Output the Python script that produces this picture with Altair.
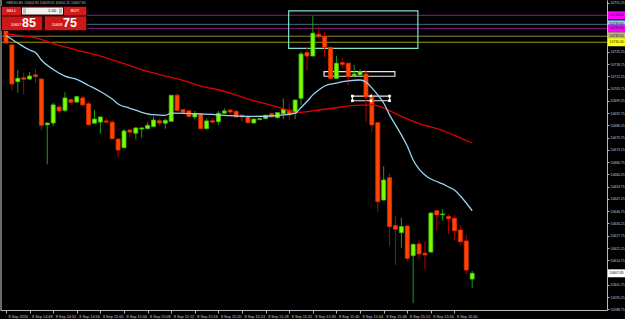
import json
import altair as alt
import pandas as pd

# ---------------- data ----------------
minutes = list(range(80))  # M1 bars from 14:44
opens = [10736.8, 10728.9, 10709.4, 10711.5, 10710.8, 10713.0, 10710.8, 10686.5, 10687.5, 10696.0,
         10694.2, 10699.9, 10698.6, 10700.8, 10697.7, 10687.4, 10688.0, 10688.6, 10687.9, 10679.0,
         10674.4, 10683.8, 10682.1, 10684.3, 10684.5, 10685.6, 10688.7, 10687.4, 10688.4, 10702.2,
         10694.6, 10694.0, 10690.7, 10692.3, 10684.5, 10688.7, 10688.2, 10692.7, 10694.4, 10693.7,
         10691.6, 10690.7, 10687.5, 10689.3, 10689.8, 10692.4, 10690.3, 10692.4, 10694.4, 10692.7,
         10700.6, 10724.8, 10723.0, 10734.5, 10733.3, 10727.6, 10711.2, 10719.5, 10719.2, 10712.4,
         10713.0, 10713.5, 10701.0, 10687.7, 10646.7, 10658.5, 10633.1, 10629.4, 10632.9, 10617.2,
         10623.4, 10618.5, 10619.1, 10641.0, 10638.8, 10637.9, 10637.0, 10630.8, 10625.0, 10604.8]
highs = [10737.3, 10729.4, 10715.6, 10714.2, 10714.7, 10716.1, 10711.1, 10687.8, 10698.3, 10697.1,
         10703.9, 10700.2, 10701.6, 10702.2, 10699.0, 10694.4, 10691.0, 10690.3, 10689.1, 10679.3,
         10684.3, 10684.1, 10685.1, 10685.1, 10687.9, 10690.9, 10689.8, 10690.0, 10702.4, 10703.3,
         10694.8, 10694.3, 10693.9, 10692.5, 10690.0, 10690.0, 10693.9, 10695.3, 10694.7, 10694.0,
         10691.9, 10691.8, 10689.9, 10690.1, 10691.9, 10693.0, 10693.2, 10700.6, 10698.0, 10700.0,
         10725.3, 10728.0, 10744.4, 10738.4, 10735.9, 10727.9, 10723.2, 10721.8, 10719.4, 10718.3,
         10716.0, 10715.6, 10703.3, 10687.9, 10664.7, 10660.9, 10637.9, 10637.3, 10633.2, 10623.5,
         10625.5, 10625.0, 10640.1, 10641.3, 10641.9, 10639.3, 10638.6, 10633.3, 10628.2, 10609.1]
lows = [10729.4, 10705.0, 10703.6, 10702.7, 10710.3, 10708.6, 10683.8, 10665.6, 10685.9, 10692.7,
        10693.2, 10697.1, 10698.4, 10696.8, 10686.1, 10687.1, 10681.8, 10687.4, 10678.8, 10669.0,
        10674.2, 10680.3, 10679.0, 10679.7, 10684.2, 10685.3, 10686.1, 10684.5, 10688.1, 10694.0,
        10692.9, 10690.6, 10689.5, 10684.2, 10684.2, 10687.4, 10686.5, 10692.4, 10692.1, 10690.4,
        10688.2, 10687.4, 10687.2, 10689.0, 10689.5, 10690.4, 10690.1, 10689.6, 10689.1, 10689.6,
        10697.1, 10715.2, 10722.8, 10732.4, 10722.3, 10710.9, 10710.9, 10716.5, 10707.7, 10712.2,
        10712.4, 10688.2, 10682.9, 10640.5, 10646.4, 10622.3, 10612.3, 10621.4, 10614.0, 10592.0,
        10615.3, 10610.1, 10618.9, 10630.3, 10635.7, 10628.7, 10625.5, 10622.7, 10607.5, 10600.2]
closes = [10729.9, 10708.2, 10711.2, 10710.7, 10712.4, 10712.1, 10686.3, 10687.5, 10697.1, 10693.9,
          10700.8, 10698.5, 10701.5, 10697.1, 10686.6, 10689.6, 10690.7, 10688.0, 10679.2, 10673.2,
          10683.3, 10682.7, 10684.9, 10684.9, 10686.3, 10689.1, 10687.5, 10688.9, 10702.2, 10694.2,
          10693.2, 10690.9, 10692.4, 10684.5, 10688.6, 10688.0, 10692.7, 10693.9, 10693.3, 10690.7,
          10690.7, 10687.7, 10689.6, 10689.8, 10691.6, 10690.7, 10693.0, 10694.8, 10691.8, 10699.7,
          10724.1, 10723.0, 10735.1, 10733.3, 10727.6, 10711.2, 10719.2, 10718.6, 10712.1, 10713.5,
          10714.7, 10701.3, 10686.5, 10645.8, 10657.3, 10632.6, 10631.2, 10632.6, 10615.8, 10623.2,
          10618.1, 10617.6, 10639.8, 10638.8, 10639.3, 10636.8, 10630.4, 10624.6, 10609.6, 10607.85]

fast_ma_idx = [0, 2, 4, 5, 6, 8, 10, 12, 14, 16, 18, 19, 21, 23, 25, 27, 28, 33, 38, 41, 44, 47, 49,
               50, 51, 52, 53, 54, 56, 58, 60, 61, 62, 63, 64, 65, 66, 67, 68, 69, 70, 71, 72, 73,
               74, 75, 76, 77, 78, 79]
fast_ma = [10733.9, 10729.9, 10726.2, 10724.9, 10720.9, 10715.9, 10712.4, 10710.6, 10707.4, 10704.2,
           10700.2, 10697.6, 10695.3, 10693.2, 10691.9, 10691.6, 10692.7, 10692.3, 10691.4, 10691.0,
           10691.1, 10691.8, 10692.7, 10695.7, 10698.9, 10702.4, 10705.0, 10707.1, 10708.7, 10709.8,
           10710.3, 10709.2, 10706.1, 10702.4, 10698.1, 10691.8, 10686.5, 10681.2, 10675.3, 10667.9,
           10663.1, 10660.0, 10657.8, 10656.5, 10655.2, 10653.6, 10652.0, 10648.8, 10645.1, 10641.0]
slow_ma_idx = [0, 3, 5, 9, 13, 16, 20, 23, 26, 30, 33, 35, 38, 41, 45, 48, 49, 50, 53, 56, 59, 62,
               64, 66, 70, 74, 76, 79]
slow_ma = [10734.7, 10733.6, 10732.6, 10728.6, 10725.4, 10723.0, 10719.0, 10715.8, 10713.2, 10710.1,
           10707.0, 10705.8, 10703.4, 10700.2, 10696.9, 10694.1, 10693.1, 10693.2, 10694.4, 10695.6,
           10696.9, 10697.1, 10695.5, 10692.5, 10687.2, 10683.5, 10680.9, 10676.9]

level_prices = [10744.6, 10739.8, 10737.6, 10733.5, 10730.3]
level_line_colors = ["#8a1a8a", "#4a6878", "#74157a", "#8a8050", "#a09a10"]
level_tag_colors = ["#ff00ff", "#87cefa", "#ff00ff", "#bdb478", "#ffff00"]

box_i1 = [47.9, 53.9, 58.7]
box_i2 = [69.8, 65.9, 65.0]
box_p1 = [10746.9, 10714.7, 10701.8]
box_p2 = [10727.1, 10712.3, 10699.3]
box_colors = ["#7fe3c6", "#e8e8e8", "#e8e8e8"]

handle_i = [58.7, 58.7, 61.85, 61.85, 65.0, 65.0]
handle_p = [10701.8, 10699.3, 10701.8, 10699.3, 10701.8, 10699.3]

current_price = 10607.85
bid_text = ["10607", "85"]
ask_text = ["10608", "75"]
header_text = "GER30,M1  10604.85 10609.05 10600.25 10607.85"

y_tick_values = [10751.25, 10725.25, 10718.75, 10712.25, 10705.75, 10699.25, 10692.75, 10686.25,
                 10679.75, 10673.25, 10666.75, 10660.25, 10653.75, 10647.25, 10640.75, 10634.25,
                 10627.75, 10621.25, 10614.75, 10601.75, 10595.25, 10588.75]
x_tick_idx = [0, 4, 8, 12, 16, 20, 24, 28, 32, 36, 40, 44, 48, 52, 56, 60, 64, 68, 72, 76]
x_tick_labels = ["8 Sep 2016", "8 Sep 14:48", "8 Sep 14:52", "8 Sep 14:56", "8 Sep 15:00",
                 "8 Sep 15:04", "8 Sep 15:08", "8 Sep 15:12", "8 Sep 15:16", "8 Sep 15:20",
                 "8 Sep 15:24", "8 Sep 15:28", "8 Sep 15:32", "8 Sep 15:36", "8 Sep 15:40",
                 "8 Sep 15:44", "8 Sep 15:48", "8 Sep 15:52", "8 Sep 15:56", "8 Sep 16:00"]

# ---------------- tables ----------------
candles = pd.DataFrame({"i": minutes, "o": opens, "h": highs, "l": lows, "c": closes})
candles["dir"] = ["up" if c >= o else "down" for o, c in zip(opens, closes)]
fast_df = pd.DataFrame({"i": fast_ma_idx, "p": fast_ma})
slow_df = pd.DataFrame({"i": slow_ma_idx, "p": slow_ma})
levels_df = pd.DataFrame({"p": level_prices, "col": level_line_colors, "tag": level_tag_colors,
                          "txt": [f"{v:.2f}" for v in level_prices]})
boxes_df = pd.DataFrame({"i": box_i1, "i2": box_i2, "p": box_p1, "p2": box_p2, "col": box_colors})
handles_df = pd.DataFrame({"i": handle_i, "p": handle_p})

FONT = "Liberation Sans"
LBL = "#c8c8c8"
AX = "#b8b8b8"
YFS = 3.4
XFS = 3.8

xscale = alt.Scale(domain=[-1 / 6, 101], nice=False, zero=False)
yscale = alt.Scale(domain=[10588.4, 10752.7], nice=False, zero=False)

x_axis = alt.Axis(orient="bottom", values=x_tick_idx,
                  labelExpr=json.dumps(x_tick_labels) + "[round(datum.value / 4)]",
                  labelAlign="left", labelOffset=2, labelBaseline="top", labelPadding=1,
                  labelFontSize=XFS, labelFont=FONT, labelColor=LBL, labelOverlap=False,
                  labelFlush=False, tickSize=3, tickColor=AX, domainColor=AX, grid=False)
y_axis = alt.Axis(orient="right", values=y_tick_values, format=".2f", labelFontSize=YFS,
                  labelFont=FONT, labelColor=LBL, labelPadding=1, labelOverlap=False,
                  labelFlush=False, tickSize=2, tickColor=AX, domainColor=AX, grid=False)


def X(field="i"):
    return alt.X(f"{field}:Q", scale=xscale, axis=x_axis, title=None)


def Y(field="p"):
    return alt.Y(f"{field}:Q", scale=yscale, axis=y_axis, title=None)


up_down = ["up", "down"]

levels = alt.Chart(levels_df).mark_rule(strokeWidth=1).encode(
    y=Y("p"), color=alt.Color("col:N", scale=None))

boxes = alt.Chart(boxes_df).mark_rect(fillOpacity=0, strokeWidth=1.2).encode(
    x=X("i"), x2="i2:Q", y=Y("p"), y2="p2:Q", stroke=alt.Stroke("col:N", scale=None))

wicks = alt.Chart(candles).mark_rule(strokeWidth=1).encode(
    x=X("i"), y=Y("l"), y2="h:Q",
    color=alt.Color("dir:N", scale=alt.Scale(domain=up_down, range=["#14a014", "#b40000"]), legend=None))

bodies = alt.Chart(candles).mark_bar(size=4, orient="vertical", strokeWidth=0.8).encode(
    x=X("i"), y=Y("o"), y2="c:Q",
    fill=alt.Fill("dir:N", scale=alt.Scale(domain=up_down, range=["#7cfc00", "#ff4500"]), legend=None),
    stroke=alt.Stroke("dir:N", scale=alt.Scale(domain=up_down, range=["#3cc010", "#e03000"]), legend=None))

slow = alt.Chart(slow_df).mark_line(strokeWidth=1.3, color="#e00000", interpolate="monotone").encode(
    x=X("i"), y=Y("p"))
fast = alt.Chart(fast_df).mark_line(strokeWidth=1.3, color="#9ad4f0", interpolate="monotone").encode(
    x=X("i"), y=Y("p"))

handles = alt.Chart(handles_df).mark_square(size=7, color="#ffffff", opacity=1).encode(
    x=X("i"), y=Y("p"))

# price tags on the right scale
tags = alt.Chart(levels_df).transform_calculate(top="datum.p + 2.1", bot="datum.p - 2.1").mark_rect().encode(
    x=alt.value(608), x2=alt.value(625), y=Y("top"), y2="bot:Q", fill=alt.Fill("tag:N", scale=None))
tag_txt = alt.Chart(levels_df).mark_text(align="left", baseline="middle", fontSize=YFS, font=FONT,
                                         color="#202020").encode(
    x=alt.value(609.5), y=Y("p"), text="txt:N")

cur_df = pd.DataFrame({"p": [current_price], "txt": [f"{current_price:.2f}"]})
cur_tag = alt.Chart(cur_df).transform_calculate(top="datum.p + 2.1", bot="datum.p - 2.1").mark_rect(
    color="#ffffff").encode(x=alt.value(608), x2=alt.value(625), y=Y("top"), y2="bot:Q")
cur_txt = alt.Chart(cur_df).mark_text(align="left", baseline="middle", fontSize=YFS, font=FONT,
                                      color="#000000").encode(x=alt.value(609.5), y=Y("p"), text="txt:N")

one = pd.DataFrame({"a": [0]})


def box(x1, x2, y1, y2, color, **kw):
    return alt.Chart(one).mark_rect(color=color, **kw).encode(
        x=alt.value(x1), x2=alt.value(x2), y=alt.value(y1), y2=alt.value(y2))


def txt(x, y, s, size, color="#ffffff", align="center", weight="normal"):
    return alt.Chart(one).mark_text(align=align, baseline="middle", fontSize=size, font=FONT,
                                    color=color, fontWeight=weight).encode(
        x=alt.value(x), y=alt.value(y), text=alt.value(s))


left_bar = alt.Chart(one).mark_rule(color="#6a6a6a", strokeWidth=2).encode(
    x=alt.value(1), y=alt.value(0), y2=alt.value(310))

panel = [
    box(1, 87, 6, 31, "#3a0000"),
    box(2, 21, 7, 15.5, "#d01c1c"),
    box(64, 86, 7, 15.5, "#d01c1c"),
    box(22, 63, 7.5, 14.5, "#f2f2f2"),
    box(23, 26, 8.5, 13.5, "#b8b8b8"),
    box(59, 62, 8.5, 13.5, "#b8b8b8"),
    box(2, 42, 16.5, 30, "#cc1818"),
    box(45, 86, 16.5, 30, "#cc1818"),
    txt(11.5, 11.3, "SELL", 4.2),
    txt(75, 11.3, "BUY", 4.2),
    txt(52, 11.3, "1.00", 4.2, color="#000000"),
    txt(16, 24.5, bid_text[0], 3.8),
    txt(29, 23, bid_text[1], 12.5, weight="bold"),
    txt(57, 24.5, ask_text[0], 3.8),
    txt(70, 23, ask_text[1], 12.5, weight="bold"),
    txt(6, 3, header_text, 3.5, color="#b8b8b8", align="left"),
]

chart = alt.layer(
    levels, boxes, wicks, bodies, slow, fast, handles, tags, tag_txt, cur_tag, cur_txt,
    left_bar, *panel
).properties(
    width=607, height=310, background="#000000",
    padding={"left": 0, "top": 0, "right": 18, "bottom": 9},
    autosize=alt.AutoSizeParams(type="none"),
).configure_view(stroke=None)

chart.save("out.html", embed_options={"renderer": "svg", "actions": False})
